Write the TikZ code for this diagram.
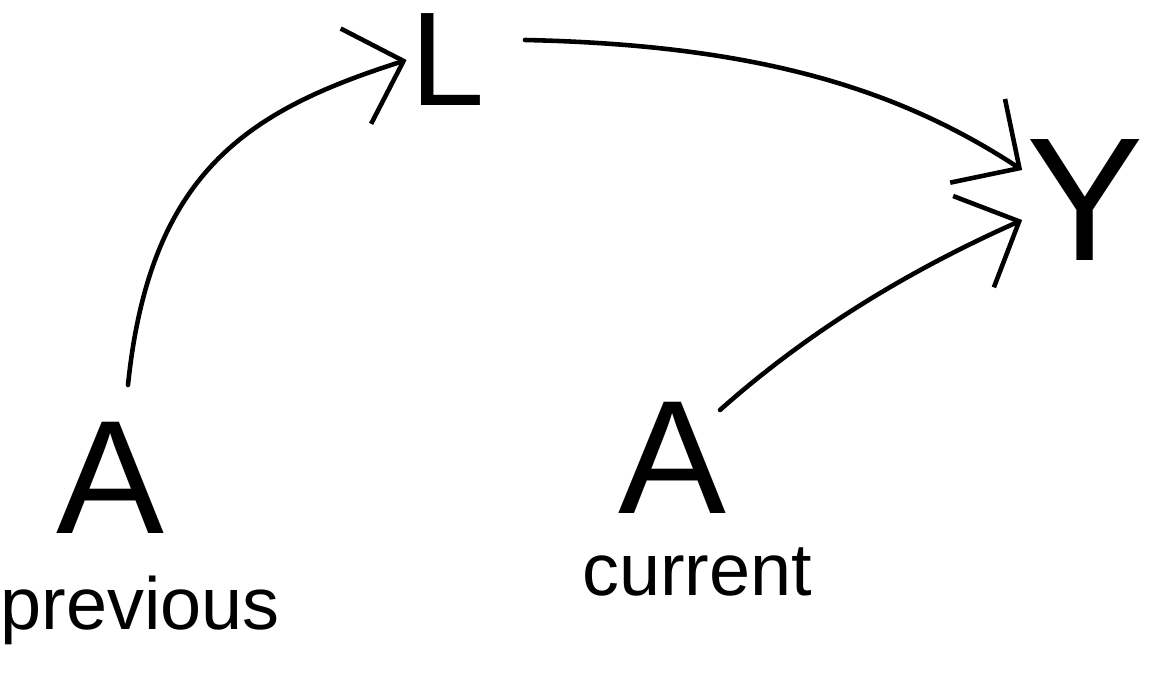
\documentclass[tikz,border=0pt]{standalone}
\usepackage{fontspec}
\setmainfont{Liberation Sans}
\usetikzlibrary{arrows.meta}
\begin{document}
\begin{tikzpicture}[x=0.01cm,y=-0.01cm,
  letter/.style={inner sep=1pt, font=\fontsize{#1}{#1}\selectfont},
  lbl/.style={inner sep=0pt, font=\fontsize{21}{24}\selectfont},
  arr/.style={line width=1.3pt, line cap=round, -{Straight Barb[length=5mm,width=10mm,line width=1.3pt]}}]
\useasboundingbox (0,0) rectangle (1157,673);
\node[letter=38] (L) at (448,60) {L};
\node[letter=50] (Y) at (1085,200) {Y};
\node[letter=46] (Ap) at (110,478) {A};
\node[letter=46] (Ac) at (672,458) {A};
\node[lbl] (prev) at (140,610) {previous};
\node[lbl] (cur) at (697,572) {current};
\draw[arr] (128,385) .. controls (150,170) and (250,110) .. (L.west);
\draw[arr] (525,40) .. controls (760,45) and (900,90) .. ([yshift=3mm]Y.west);
\draw[arr] (720,410) .. controls (810,330) and (910,270) .. ([yshift=-2mm]Y.west);
\end{tikzpicture}
\end{document}
